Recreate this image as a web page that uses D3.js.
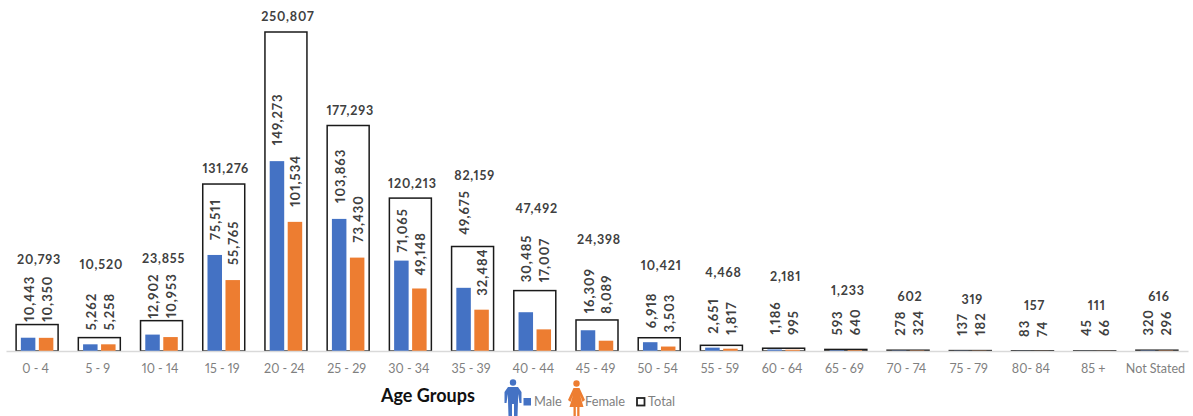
<!DOCTYPE html>
<html>
<head>
<meta charset="utf-8">
<script src="https://cdn.jsdelivr.net/npm/d3@7/dist/d3.min.js"></script>
<style>
  html, body { margin: 0; padding: 0; background: #fff; }
  svg { display: block; }
  text { font-family: Lato, "Open Sans", sans-serif; font-feature-settings: "pnum" 1; }
</style>
</head>
<body>
<svg id="chart" width="1193" height="416"></svg>
<script>
// Population by age group, split by sex
const ageGroups = ["0 - 4","5 - 9","10 - 14","15 - 19","20 - 24","25 - 29","30 - 34","35 - 39","40 - 44","45 - 49","50 - 54","55 - 59","60 - 64","65 - 69","70 - 74","75 - 79","80- 84","85 +","Not Stated"];
const male   = [10443,5262,12902,75511,149273,103863,71065,49675,30485,16309,6918,2651,1186,593,278,137,83,45,320];
const female = [10350,5258,10953,55765,101534,73430,49148,32484,17007,8089,3503,1817,995,640,324,182,74,66,296];
const total  = [20793,10520,23855,131276,250807,177293,120213,82159,47492,24398,10421,4468,2181,1233,602,319,157,111,616];

// Vertical centres of the total labels, set by hand so they clear the rotated sex labels
const totalLabelY = [259,264,258,168,16,110,183,175,208,239,265,272,276,290,296,299,305,305,296];

// Gap between a bar top and its rotated label
const maleLabelGap   = [16,14,16,15,16,16,8,53,30,17,14,14,15,15,15,15,14,15,15];
const femaleLabelGap = [16,14,19,15,15,15,13,14,47,27,14,14,15,15,15,15,14,15,15];

const svg = d3.select("#chart");
const baseY = 351;
const fmt = d3.format(",");

const x = d3.scaleBand().domain(ageGroups).range([6, 1188]).paddingInner(0.325).paddingOuter(0.1625);
const sub = d3.scaleBand().domain(["Male","Female"]).range([0, x.bandwidth()]).paddingInner(0.194).paddingOuter(0.264);
const y = d3.scaleLinear().domain([0, 250807]).range([baseY, 32]);

const colors = { Male: "#4472C4", Female: "#ED7D31" };
const series = [["Male", male, maleLabelGap], ["Female", female, femaleLabelGap]];

// Total outlines sit behind the sex bars
svg.append("g").selectAll("rect").data(total).join("rect")
  .attr("x", (d, i) => x(ageGroups[i]))
  .attr("y", d => y(d))
  .attr("width", x.bandwidth())
  .attr("height", d => baseY - y(d))
  .attr("fill", "none")
  .attr("stroke", "#1a1a1a")
  .attr("stroke-width", 1.5);

for (const [name, values, gaps] of series) {
  svg.append("g").selectAll("rect").data(values).join("rect")
    .attr("x", (d, i) => x(ageGroups[i]) + sub(name))
    .attr("y", d => y(d))
    .attr("width", sub.bandwidth())
    .attr("height", d => baseY - y(d))
    .attr("fill", colors[name]);

  // Rotated value labels above each bar
  svg.append("g").selectAll("text").data(values).join("text")
    .attr("transform", (d, i) => {
      const cx = x(ageGroups[i]) + sub(name) + sub.bandwidth() / 2;
      return `translate(${cx + 5.5},${y(d) - gaps[i]}) rotate(-90)`;
    })
    .attr("font-size", 13)
    .attr("font-weight", 700)
    .attr("letter-spacing", 1)
    .attr("fill", "#404040")
    .text(d => fmt(d));
}

// Total labels
svg.append("g").selectAll("text").data(total).join("text")
  .attr("x", (d, i) => x(ageGroups[i]) + x.bandwidth() / 2 + 2)
  .attr("y", (d, i) => totalLabelY[i] + 4.5)
  .attr("text-anchor", "middle")
  .attr("font-size", 12.5)
  .attr("font-weight", 700)
  .attr("letter-spacing", 0.8)
  .attr("fill", "#404040")
  .text(d => fmt(d));

// Category axis
const axis = svg.append("g")
  .attr("transform", `translate(0,${baseY})`)
  .call(d3.axisBottom(x).tickSize(0).tickPadding(13));
axis.select(".domain").attr("stroke", "#d9d9d9").attr("stroke-width", 1.5);
axis.selectAll("text")
  .attr("dx", -1.5)
  .attr("font-size", 12.5)
  .attr("fill", "#7f7f7f")
  .style("font-family", "Lato, sans-serif");

// Axis title
svg.append("text")
  .attr("x", 381).attr("y", 402)
  .attr("font-size", 18)
  .attr("font-weight", 700)
  .attr("fill", "#111")
  .text("Age Groups");

// Person pictograms beside the legend
function person(g, cx, top, color, skirt) {
  g.append("circle").attr("cx", cx).attr("cy", top + 3.5).attr("r", 3.2).attr("fill", color);
  const path = d3.path();
  const pts = skirt
    ? [[-3,8],[3,8],[8.5,20],[6,22],[3.5,15],[7,27],[3,27],[3,38],[0.7,38],[0.7,27],[-0.7,27],[-0.7,38],[-3,38],[-3,27],[-7,27],[-3.5,15],[-6,22],[-8.5,20]]
    : [[-5,8],[5,8],[8.5,13],[8.5,24],[6.5,24],[5.2,15],[4.5,38],[1,38],[1,25],[-1,25],[-1,38],[-4.5,38],[-5.2,15],[-6.5,24],[-8.5,24],[-8.5,13]];
  pts.forEach((p, i) => i ? path.lineTo(cx + p[0], top + p[1]) : path.moveTo(cx + p[0], top + p[1]));
  path.closePath();
  g.append("path").attr("d", path.toString()).attr("fill", color);
}
const legend = svg.append("g");
person(legend, 513, 379, colors.Male, false);
person(legend, 576.5, 380, colors.Female, true);

legend.append("rect").attr("x", 523.5).attr("y", 398).attr("width", 7.5).attr("height", 7.5).attr("fill", colors.Male);
legend.append("rect").attr("x", 637).attr("y", 398).attr("width", 7.5).attr("height", 7.5)
  .attr("fill", "none").attr("stroke", "#222").attr("stroke-width", 1.8);

const legendItems = [["Male", 534], ["Female", 585], ["Total", 648]];
legend.selectAll("text").data(legendItems).join("text")
  .attr("x", d => d[1]).attr("y", 406)
  .attr("font-size", 12.8)
  .attr("fill", "#7f7f7f")
  .text(d => d[0]);
</script>
</body>
</html>
